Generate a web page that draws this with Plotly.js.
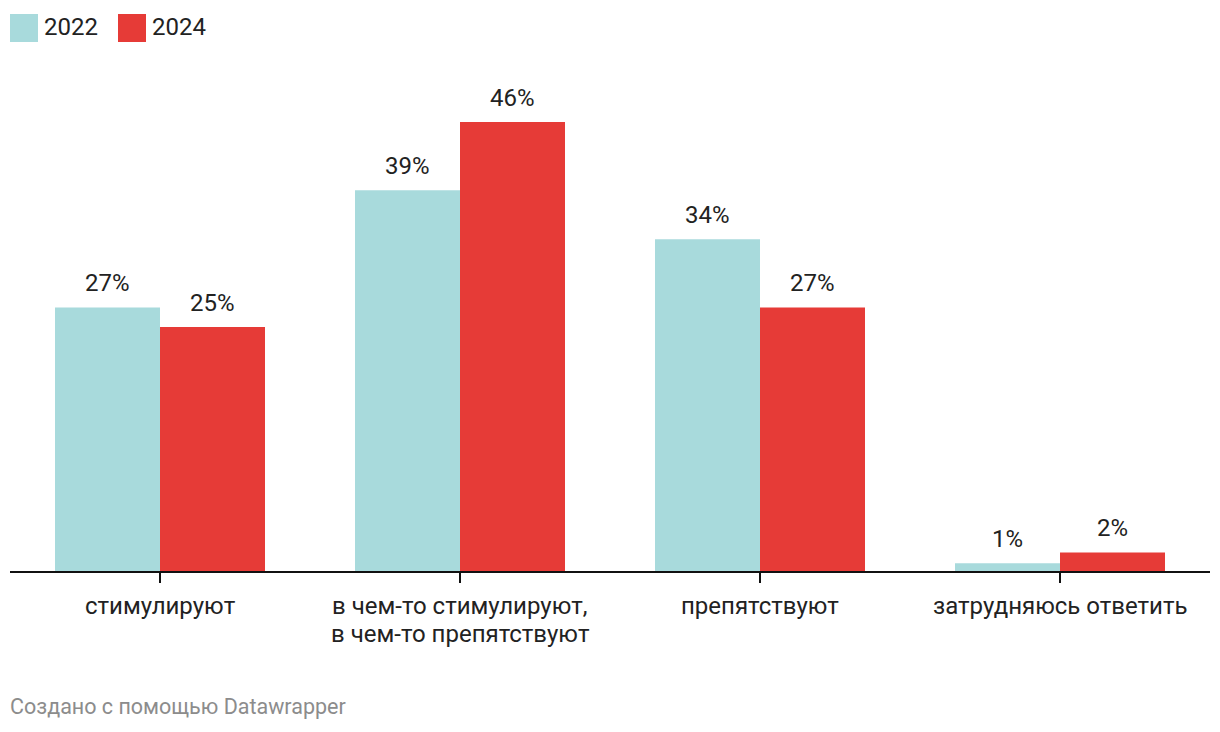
<!DOCTYPE html>
<html>
<head>
<meta charset="utf-8">
<script src="https://cdn.plot.ly/plotly-3.0.1.min.js"></script>
<style>
  html, body { margin: 0; padding: 0; background: #fff; }
  #chart { width: 1220px; height: 732px; }
</style>
</head>
<body>
<div id="chart"></div>
<script>
// categories and values (percent of respondents)
const categories = [
  'стимулируют',
  'в чем-то стимулируют,<br>в чем-то препятствуют',
  'препятствуют',
  'затрудняюсь ответить'
];
const years = ['2022', '2024'];
const values2022 = [27, 39, 34, 0.8];
const values2024 = [25, 46, 27, 1.9];
const labels2022 = ['27%', '39%', '34%', '1%'];
const labels2024 = ['25%', '46%', '27%', '2%'];
const colors = ['#a8dadc', '#e63b37'];

const xs = categories.map((c, i) => i);
const barHalf = 0.175;   // offset of each bar from the category centre

const data = [
  {x: xs, y: values2022, type: 'bar', name: years[0], marker: {color: colors[0]}, hoverinfo: 'skip'},
  {x: xs, y: values2024, type: 'bar', name: years[1], marker: {color: colors[1]}, hoverinfo: 'skip'}
];

const labelFont = {family: 'Roboto, sans-serif', size: 24, color: '#222'};
let annotations = [];
xs.forEach(i => {
  annotations.push({x: i - barHalf, y: values2022[i], xref: 'x', yref: 'y', text: labels2022[i],
    showarrow: false, yanchor: 'bottom', yshift: 8, font: labelFont});
  annotations.push({x: i + barHalf, y: values2024[i], xref: 'x', yref: 'y', text: labels2024[i],
    showarrow: false, yanchor: 'bottom', yshift: 8, font: labelFont});
});

// category labels under the axis, one annotation per line (tighter line spacing)
categories.forEach((c, i) => {
  c.split('<br>').forEach((line, k) => {
    annotations.push({x: i, y: 0, xref: 'x', yref: 'y', text: line, showarrow: false,
      yanchor: 'middle', yshift: -35 - k * 28, font: labelFont});
  });
});

const W = 1220, H = 732;
const m = {l: 10, r: 10, t: 83, b: 161};
const pw = W - m.l - m.r, ph = H - m.t - m.b;
// pixel positions -> paper coords for the hand-made legend and footer
const px = x => (x - m.l) / pw;
const py = y => (H - m.b - y) / ph;

// legend built by hand: big squares like the original
years.forEach((yr, k) => {
  annotations.push({x: px([42, 150][k]), y: py(27), xref: 'paper', yref: 'paper', text: yr,
    showarrow: false, xanchor: 'left', yanchor: 'middle', font: labelFont});
});
annotations.push({x: px(8), y: py(706), xref: 'paper', yref: 'paper',
  text: 'Создано с помощью Datawrapper', showarrow: false,
  xanchor: 'left', yanchor: 'middle', font: {family: 'Roboto, sans-serif', size: 21.5, color: '#8c8c8c'}});

const shapes = years.map((yr, k) => ({
  type: 'rect', xref: 'paper', yref: 'paper',
  x0: px([10, 118][k]), x1: px([38, 146][k]),
  y0: py(42), y1: py(14),
  fillcolor: colors[k], line: {width: 0}
}));

const layout = {
  width: W, height: H,
  margin: m,
  paper_bgcolor: '#fff', plot_bgcolor: '#fff',
  barmode: 'group', bargap: 0.3, bargroupgap: 0,
  showlegend: false,
  font: {family: 'Roboto, sans-serif', size: 24, color: '#222'},
  xaxis: {
    range: [-0.5, 3.5], tickvals: xs, showticklabels: false,
    showgrid: false, zeroline: false,
    showline: true, linecolor: '#111', linewidth: 1.5,
    ticks: 'outside', ticklen: 10, tickwidth: 1.5, tickcolor: '#111',
    fixedrange: true
  },
  yaxis: {range: [0, 50], visible: false, fixedrange: true},
  annotations: annotations,
  shapes: shapes
};

Plotly.newPlot('chart', data, layout, {displayModeBar: false, staticPlot: true});
</script>
</body>
</html>
